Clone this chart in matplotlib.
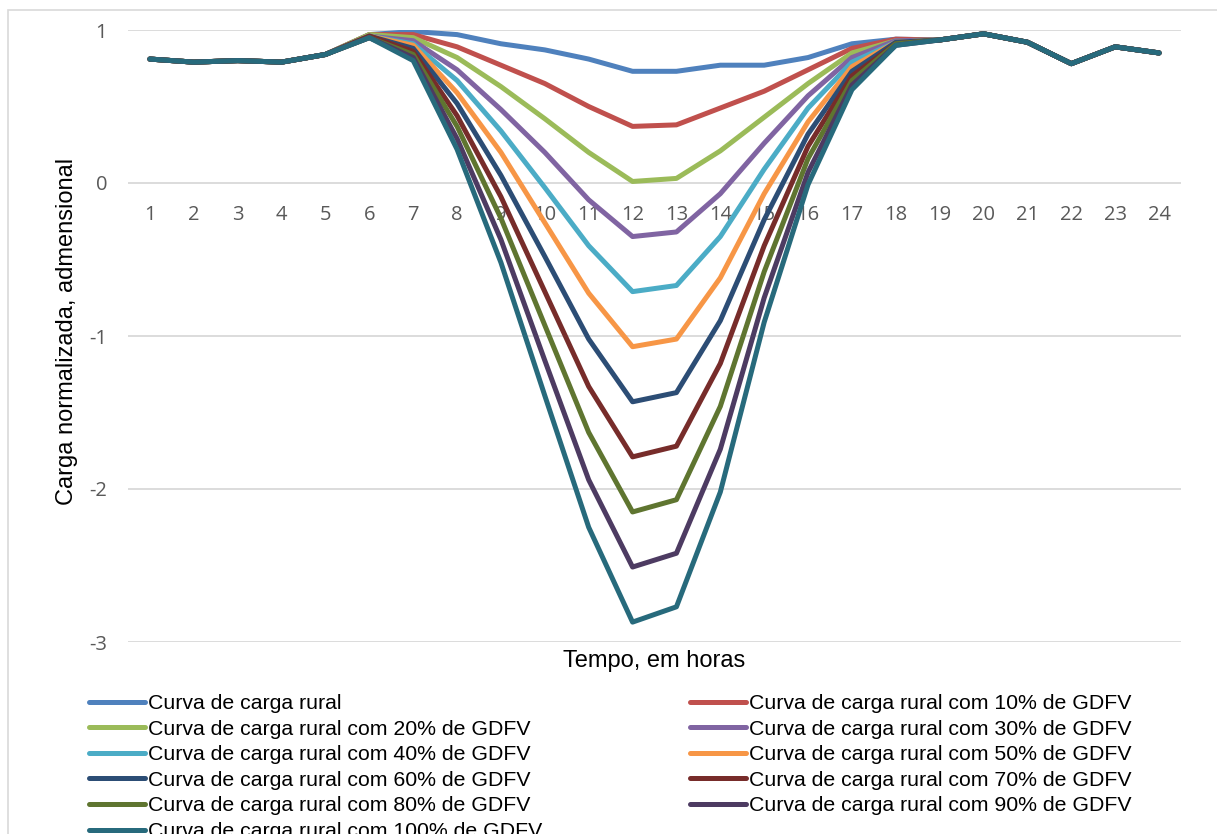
import matplotlib

matplotlib.use("Agg")
import matplotlib.pyplot as plt
from matplotlib.patches import Rectangle

# Hours of the day (categories)
hours = list(range(1, 25))

# Normalized rural load curves
carga_rural = [0.81, 0.79, 0.80, 0.79, 0.84, 0.97, 0.99, 0.97, 0.91, 0.87, 0.81, 0.73,
               0.73, 0.77, 0.77, 0.82, 0.91, 0.94, 0.935, 0.975, 0.92, 0.78, 0.89, 0.85]
gdfv_10 = [0.81, 0.79, 0.80, 0.79, 0.84, 0.97, 0.97, 0.89, 0.77, 0.65, 0.50, 0.37,
           0.38, 0.49, 0.60, 0.74, 0.88, 0.94, 0.935, 0.975, 0.92, 0.78, 0.89, 0.85]
gdfv_20 = [0.81, 0.79, 0.80, 0.79, 0.84, 0.97, 0.95, 0.82, 0.63, 0.42, 0.20, 0.01,
           0.03, 0.21, 0.43, 0.65, 0.85, 0.93, 0.935, 0.975, 0.92, 0.78, 0.89, 0.85]
gdfv_30 = [0.81, 0.79, 0.80, 0.79, 0.84, 0.96, 0.93, 0.74, 0.48, 0.20, -0.11, -0.35,
           -0.32, -0.07, 0.26, 0.57, 0.82, 0.93, 0.935, 0.975, 0.92, 0.78, 0.89, 0.85]
gdfv_40 = [0.81, 0.79, 0.80, 0.79, 0.84, 0.96, 0.91, 0.67, 0.34, -0.03, -0.41, -0.71,
           -0.67, -0.35, 0.09, 0.49, 0.79, 0.92, 0.935, 0.975, 0.92, 0.78, 0.89, 0.85]
gdfv_50 = [0.81, 0.79, 0.80, 0.79, 0.84, 0.96, 0.90, 0.59, 0.20, -0.26, -0.72, -1.07,
           -1.02, -0.62, -0.07, 0.40, 0.76, 0.92, 0.935, 0.975, 0.92, 0.78, 0.89, 0.85]
gdfv_60 = [0.81, 0.79, 0.80, 0.79, 0.84, 0.96, 0.88, 0.52, 0.05, -0.48, -1.02, -1.43,
           -1.37, -0.90, -0.24, 0.32, 0.73, 0.92, 0.935, 0.975, 0.92, 0.78, 0.89, 0.85]
gdfv_70 = [0.81, 0.79, 0.80, 0.79, 0.84, 0.96, 0.86, 0.44, -0.09, -0.71, -1.33, -1.79,
           -1.72, -1.18, -0.41, 0.24, 0.70, 0.91, 0.935, 0.975, 0.92, 0.78, 0.89, 0.85]
gdfv_80 = [0.81, 0.79, 0.80, 0.79, 0.84, 0.95, 0.84, 0.37, -0.23, -0.93, -1.63, -2.15,
           -2.07, -1.46, -0.58, 0.16, 0.67, 0.91, 0.935, 0.975, 0.92, 0.78, 0.89, 0.85]
gdfv_90 = [0.81, 0.79, 0.80, 0.79, 0.84, 0.95, 0.82, 0.29, -0.37, -1.16, -1.94, -2.51,
           -2.42, -1.74, -0.75, 0.07, 0.64, 0.90, 0.935, 0.975, 0.92, 0.78, 0.89, 0.85]
gdfv_100 = [0.81, 0.79, 0.80, 0.79, 0.84, 0.95, 0.80, 0.22, -0.52, -1.39, -2.25, -2.87,
            -2.77, -2.02, -0.91, -0.01, 0.61, 0.90, 0.935, 0.975, 0.92, 0.78, 0.89, 0.85]

series = [carga_rural, gdfv_10, gdfv_20, gdfv_30, gdfv_40, gdfv_50,
          gdfv_60, gdfv_70, gdfv_80, gdfv_90, gdfv_100]
labels = ["Curva de carga rural"] + [
    f"Curva de carga rural com {p}% de GDFV" for p in range(10, 101, 10)
]
colors = ["#4F81BD", "#C0504D", "#9BBB59", "#8064A2", "#4BACC6", "#F79646",
          "#2C4D75", "#772C2A", "#5F7530", "#4D3B62", "#276A7C"]

W, H = 1217, 834
fig = plt.figure(figsize=(W / 100, H / 100), dpi=100)
fig.patch.set_facecolor("white")

# Chart area border (Excel style)
fig.patches.append(Rectangle((8 / W, -0.01), 1.2, 1 - 10 / H + 0.01, transform=fig.transFigure,
                             fill=False, edgecolor="#D9D9D9", linewidth=1.2))

ax = fig.add_axes([128 / W, 1 - 642 / H, (1181 - 128) / W, (642 - 30) / H])
for y, c, lab in zip(series, colors, labels):
    ax.plot(hours, y, color=c, linewidth=3.6, label=lab, solid_joinstyle="round",
            solid_capstyle="round")

ax.set_xlim(0.5, 24.5)
ax.set_ylim(-3, 1)
ax.set_yticks([-3, -2, -1, 0, 1])
ax.set_yticklabels(["-3", "-2", "-1", "0", "1"])
ax.set_xticks(hours)
ax.grid(axis="y", color="#D9D9D9", linewidth=1.3)
ax.set_axisbelow(True)
for s in ax.spines.values():
    s.set_visible(False)
ax.spines["bottom"].set_position(("data", 0))
ax.tick_params(axis="both", length=0, labelsize=14.5, labelcolor="#595959")
ax.tick_params(axis="x", pad=16)
ax.tick_params(axis="y", pad=15)
for t in ax.get_xticklabels() + ax.get_yticklabels():
    t.set_fontfamily("Open Sans")

fig.text(67 / W, 1 - 331 / H, "Carga normalizada, admensional", rotation=90,
         ha="center", va="center", fontsize=17, family="Liberation Sans")
fig.text(654 / W, 1 - 661 / H, "Tempo, em horas", ha="center", va="center",
         fontsize=17, family="Liberation Sans")

handles = ax.get_lines()
col1 = [0, 2, 4, 6, 8, 10]
col2 = [1, 3, 5, 7, 9]
leg_kw = dict(frameon=False, handlelength=2.64, handletextpad=0.14,
              labelspacing=0.31, borderaxespad=0, borderpad=0,
              prop={"family": "Liberation Sans", "size": 15.3})
fig.legend([handles[i] for i in col1], [labels[i] for i in col1], loc="upper left",
           bbox_to_anchor=(89 / W, 1 - 694 / H), **leg_kw)
fig.legend([handles[i] for i in col2], [labels[i] for i in col2], loc="upper left",
           bbox_to_anchor=(690 / W, 1 - 694 / H), **leg_kw)

fig.savefig("out.png", dpi=100, facecolor="white")
